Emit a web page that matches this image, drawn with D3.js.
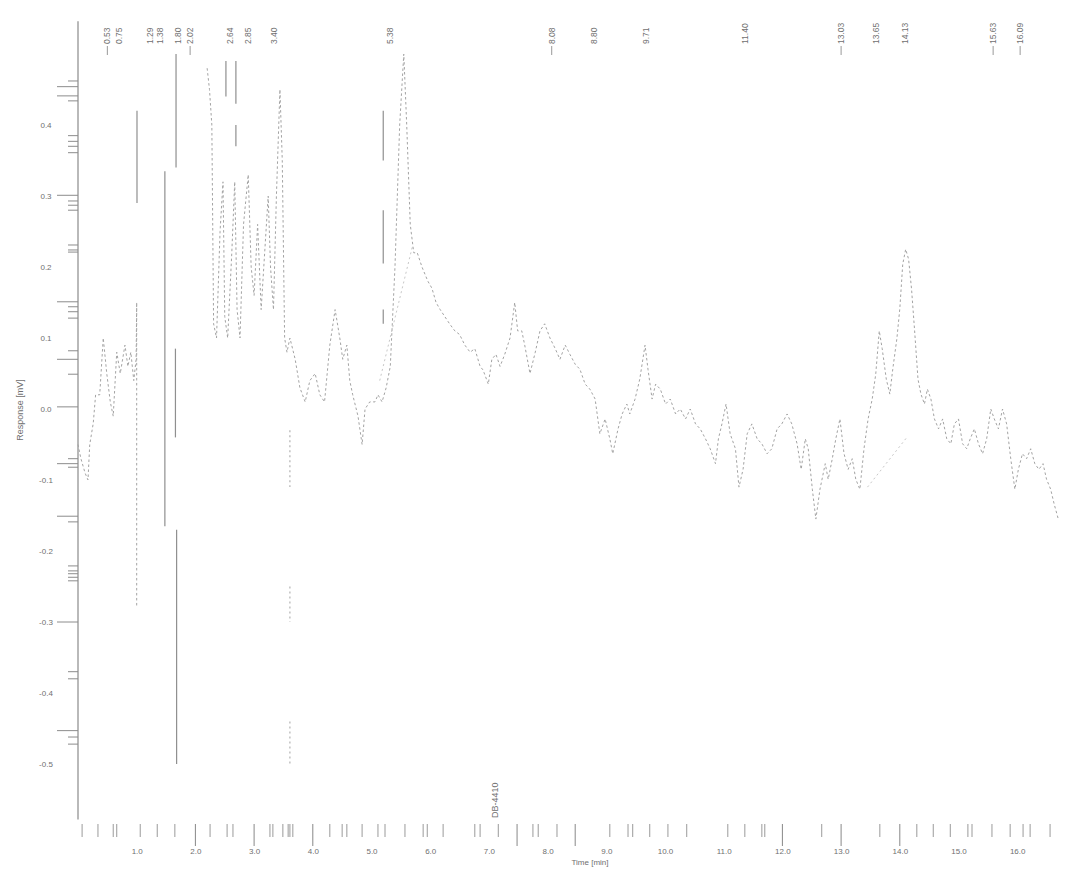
<!DOCTYPE html>
<html><head><meta charset="utf-8">
<script src="https://cdn.jsdelivr.net/npm/d3@7"></script>
<style>
html,body{margin:0;padding:0;background:#fff;}
svg{display:block;font-family:"Liberation Sans",Arial,sans-serif;}
</style></head>
<body><svg id="c" width="1066" height="870"></svg>
<script>
// ---------- data ----------
const traceTime = [0.00,0.05,0.12,0.17,0.20,0.26,0.30,0.37,0.43,0.49,0.55,0.60,0.66,0.72,0.80,0.85,0.90,0.95,0.99,1.00,1.00,1.50,
 2.20,2.24,2.28,2.31,2.36,2.42,2.47,2.50,2.55,2.62,2.67,2.71,2.76,2.82,2.90,2.95,3.00,3.06,3.12,3.18,3.24,3.28,3.33,3.38,3.44,3.48,3.52,3.56,
 3.61,3.70,3.78,3.87,3.95,4.04,4.12,4.20,4.29,4.38,4.46,4.51,4.58,4.63,4.68,4.77,4.84,4.89,4.97,5.06,5.11,5.18,5.25,5.32,5.40,5.48,5.55,5.60,5.66,5.72,
 5.78,5.86,5.96,6.03,6.10,6.17,6.25,6.33,6.42,6.50,6.59,6.68,6.76,6.85,6.90,6.99,7.05,7.12,7.19,7.27,7.36,7.44,7.49,7.56,7.61,7.70,7.79,7.87,7.95,
 8.04,8.13,8.21,8.30,8.38,8.47,8.55,8.64,8.72,8.81,8.89,8.98,9.06,9.11,9.20,9.27,9.35,9.40,9.49,9.57,9.66,9.71,9.78,9.84,9.92,
 10.01,10.09,10.18,10.26,10.35,10.43,10.52,10.60,10.69,10.77,10.86,10.91,10.97,11.04,11.11,11.20,11.26,11.33,11.40,11.48,11.57,11.65,11.74,11.82,11.91,11.99,
 12.08,12.16,12.25,12.32,12.39,12.44,12.51,12.57,12.64,12.73,12.78,12.85,12.91,12.98,13.05,13.12,13.19,13.25,13.32,13.39,13.46,13.53,13.59,13.65,13.70,13.77,13.83,13.88,13.95,
 14.00,14.05,14.10,14.15,14.20,14.25,14.31,14.36,14.42,14.47,14.53,14.59,14.66,14.73,14.80,14.87,14.93,15.00,15.07,15.14,15.20,15.27,15.34,15.41,15.48,15.55,15.61,15.68,15.75,15.82,15.89,15.96,
 16.02,16.09,16.16,16.23,16.30,16.37,16.44,16.50,16.57,16.63,16.70];
const traceResponse = [-0.05,-0.07,-0.09,-0.10,-0.05,-0.02,0.02,0.02,0.10,0.05,0.01,-0.01,0.08,0.05,0.09,0.06,0.08,0.04,0.07,0.15,-0.28,null,
 0.48,0.45,0.40,0.12,0.10,0.25,0.32,0.13,0.10,0.22,0.32,0.14,0.10,0.26,0.33,0.20,0.16,0.26,0.14,0.22,0.30,0.20,0.14,0.30,0.45,0.35,0.10,0.08,
 0.10,0.07,0.03,0.01,0.04,0.05,0.02,0.01,0.09,0.14,0.10,0.07,0.09,0.04,0.02,-0.01,-0.05,0.00,0.01,0.01,0.02,0.01,0.03,0.06,0.20,0.40,0.50,0.40,0.26,0.22,
 0.22,0.20,0.18,0.17,0.15,0.14,0.13,0.12,0.11,0.105,0.09,0.08,0.085,0.06,0.055,0.035,0.07,0.077,0.06,0.077,0.10,0.15,0.11,0.11,0.09,0.05,0.08,0.11,0.12,
 0.10,0.085,0.07,0.09,0.077,0.063,0.056,0.035,0.028,0.014,-0.035,-0.014,-0.042,-0.063,-0.028,-0.007,0.007,-0.007,0.014,0.042,0.09,0.056,0.014,0.035,0.028,
 0.007,0.014,-0.007,0.0,-0.014,0.0,-0.021,-0.028,-0.042,-0.056,-0.077,-0.042,-0.021,0.007,-0.035,-0.056,-0.11,-0.085,-0.035,-0.021,-0.042,-0.049,-0.063,-0.056,-0.028,-0.021,
 -0.007,-0.021,-0.049,-0.085,-0.042,-0.056,-0.113,-0.155,-0.113,-0.077,-0.099,-0.07,-0.042,-0.014,-0.063,-0.085,-0.07,-0.099,-0.113,-0.056,-0.014,0.014,0.049,0.11,0.085,0.042,0.021,0.056,0.099,
 0.141,0.204,0.225,0.211,0.169,0.113,0.042,0.021,0.007,0.028,0.014,-0.014,-0.028,-0.014,-0.042,-0.049,-0.021,-0.014,-0.049,-0.056,-0.042,-0.028,-0.049,-0.063,-0.042,0.0,-0.014,-0.028,0.0,-0.021,-0.07,-0.113,
 -0.085,-0.063,-0.07,-0.056,-0.077,-0.085,-0.077,-0.099,-0.113,-0.134,-0.155];

// baseline drawn under integrated peaks: [time, response]
const baselineStart = [[5.14,0.04],[13.45,-0.11]];
const baselineEnd   = [[5.70,0.23],[14.12,-0.04]];

// solid vertical marks: time, top, bottom
const spikeTime   = [1.005,1.48,1.67,1.66,1.68,2.52,2.69,2.69,5.20,5.20,5.20];
const spikeTop    = [0.42,0.335,0.50,0.085,-0.17,0.49,0.49,0.40,0.42,0.28,0.14];
const spikeBottom = [0.29,-0.165,0.34,-0.04,-0.50,0.44,0.43,0.37,0.35,0.205,0.12];
// dashed vertical marks
const dashTime   = [3.61,3.61,3.61];
const dashTop    = [-0.03,-0.25,-0.44];
const dashBottom = [-0.11,-0.30,-0.50];

// peak labels along the top
const peakLabels = ["0.53","0.75","1.29","1.38","1.80","2.02","2.64","2.85","3.40","5.38","8.08","8.80","9.71","11.40","13.03","13.65","14.13","15.63","16.09"];
const peakTimes  = [0.50,0.70,1.23,1.40,1.70,1.91,2.59,2.90,3.34,5.31,8.07,8.79,9.68,11.36,13.00,13.60,14.09,15.59,16.05];
const peakHasTick = [true,false,false,false,false,true,false,false,false,false,true,false,false,false,true,false,false,true,true];

// axes
const yTickValues = [0.4,0.3,0.2,0.1,0.0,-0.1,-0.2,-0.3,-0.4,-0.5];
const yTickLabels = ["0.4","0.3","0.2","0.1","0.0","-0.1","-0.2","-0.3","-0.4","-0.5"];
const yShortTicks = [0.462,0.434,0.385,0.377,0.370,0.361,0.293,0.287,0.280,0.231,0.224,0.221,0.144,0.137,0.128,0.082,0.049,-0.070,-0.082,-0.159,-0.221,-0.228,-0.232,-0.237,-0.242,-0.370,-0.380,-0.462,-0.472];
const yLongTicks  = [0.454,0.441,0.301,0.151,0.070,0.003,-0.077,-0.151,-0.300,-0.453];
const xTickValues = [1,2,3,4,5,6,7,8,9,10,11,12,13,14,15,16];
const xTickLabels = ["1.0","2.0","3.0","4.0","5.0","6.0","7.0","8.0","9.0","10.0","11.0","12.0","13.0","14.0","15.0","16.0"];
const xMinorTicks = [0.07,0.34,0.60,0.66,1.06,1.35,1.65,2.25,2.54,2.64,3.27,3.32,3.49,3.58,3.61,3.66,4.29,4.50,4.58,4.84,5.11,5.23,5.57,5.88,5.95,6.22,6.76,6.85,7.16,7.75,7.84,8.16,9.06,9.37,9.45,9.74,10.05,10.37,11.07,11.36,11.65,11.70,12.67,13.66,14.29,14.57,14.86,15.16,15.23,15.57,15.88,16.10,16.22,16.56];
const xMajorTicks = [2,3,4,7.48,8.47,12,13,14];

const xTitle = "Time [min]";
const yTitle = "Response [mV]";
const sampleName = "DB-4410";

// ---------- drawing ----------
const svg = d3.select("#c");
const x = d3.scaleLinear().domain([0,16.8]).range([78,78+16.8*58.7]);
const y = d3.scaleLinear().domain([-0.5,0.4]).range([764,125]);

const ink = "#6f6f6f";

// y axis line
svg.append("line").attr("x1",x(0)).attr("x2",x(0)).attr("y1",y(0.546)).attr("y2",y(-0.578))
  .attr("stroke","#8a8a8a").attr("stroke-width",1.2);

// y tick labels via d3 axis
const yAx = svg.append("g").attr("transform",`translate(${x(0)-32},0)`)
  .call(d3.axisLeft(y).tickValues(yTickValues).tickSize(0).tickPadding(0).tickFormat((d,i)=>yTickLabels[i]));
yAx.select(".domain").remove();
yAx.selectAll("text").attr("fill",ink).attr("font-size",8).attr("text-anchor","middle").attr("font-family","Liberation Sans, Arial, sans-serif");

svg.append("g").selectAll("line").data(yShortTicks).join("line")
  .attr("x1",x(0)-10).attr("x2",x(0)).attr("y1",d=>y(d)).attr("y2",d=>y(d))
  .attr("stroke","#8c8c8c").attr("stroke-width",1);
svg.append("g").selectAll("line").data(yLongTicks).join("line")
  .attr("x1",x(0)-21).attr("x2",x(0)).attr("y1",d=>y(d)).attr("y2",d=>y(d))
  .attr("stroke","#8c8c8c").attr("stroke-width",1);

// x axis labels via d3 axis
const xAx = svg.append("g").attr("transform","translate(0,846)")
  .call(d3.axisBottom(x).tickValues(xTickValues).tickSize(0).tickPadding(2).tickFormat((d,i)=>xTickLabels[i]));
xAx.select(".domain").remove();
xAx.selectAll("text").attr("fill",ink).attr("font-size",8).attr("font-family","Liberation Sans, Arial, sans-serif");

svg.append("g").selectAll("line").data(xMinorTicks).join("line")
  .attr("x1",d=>x(d)).attr("x2",d=>x(d)).attr("y1",824).attr("y2",837)
  .attr("stroke","#9a9a9a").attr("stroke-width",1);
svg.append("g").selectAll("line").data(xMajorTicks).join("line")
  .attr("x1",d=>x(d)).attr("x2",d=>x(d)).attr("y1",824).attr("y2",846)
  .attr("stroke","#888").attr("stroke-width",1);

svg.append("text").attr("x",590).attr("y",865).attr("text-anchor","middle")
  .attr("font-size",8).attr("fill",ink).text(xTitle);
svg.append("text").attr("transform",`translate(23,410) rotate(-90)`).attr("text-anchor","middle")
  .attr("font-size",9).attr("fill",ink).text(yTitle);
svg.append("text").attr("transform",`translate(${x(7.15)},818) rotate(-90)`).attr("text-anchor","start")
  .attr("font-size",9).attr("fill",ink).text(sampleName);

// baselines
svg.append("g").selectAll("line").data(baselineStart).join("line")
  .attr("x1",d=>x(d[0])).attr("y1",d=>y(d[1]))
  .attr("x2",(d,i)=>x(baselineEnd[i][0])).attr("y2",(d,i)=>y(baselineEnd[i][1]))
  .attr("stroke","#c8c8c8").attr("stroke-width",1).attr("stroke-dasharray","2,3");

// trace
const pts = traceTime.map((t,i)=>({t, v: traceResponse[i]}));
const line = d3.line().defined(d=>d.v!==null).x(d=>x(d.t)).y(d=>y(d.v));
svg.append("path").datum(pts).attr("d",line).attr("fill","none")
  .attr("stroke","#a3a3a3").attr("stroke-width",1).attr("stroke-dasharray","2.5,2.5");

// solid spikes
svg.append("g").selectAll("line").data(spikeTime).join("line")
  .attr("x1",d=>x(d)).attr("x2",d=>x(d))
  .attr("y1",(d,i)=>y(spikeTop[i])).attr("y2",(d,i)=>y(spikeBottom[i]))
  .attr("stroke","#8f8f8f").attr("stroke-width",1.2);
// dashed spikes
svg.append("g").selectAll("line").data(dashTime).join("line")
  .attr("x1",d=>x(d)).attr("x2",d=>x(d))
  .attr("y1",(d,i)=>y(dashTop[i])).attr("y2",(d,i)=>y(dashBottom[i]))
  .attr("stroke","#aaa").attr("stroke-width",1.1).attr("stroke-dasharray","2,3");

// peak labels
const pl = svg.append("g");
pl.selectAll("text").data(peakLabels).join("text")
  .attr("transform",(d,i)=>`translate(${x(peakTimes[i])+3},44) rotate(-90)`)
  .attr("text-anchor","start").attr("font-size",8.5).attr("fill",ink).text(d=>d);
pl.selectAll("line").data(peakTimes.filter((d,i)=>peakHasTick[i])).join("line")
  .attr("x1",d=>x(d)).attr("x2",d=>x(d)).attr("y1",46).attr("y2",55)
  .attr("stroke","#999").attr("stroke-width",1);
</script></body></html>
